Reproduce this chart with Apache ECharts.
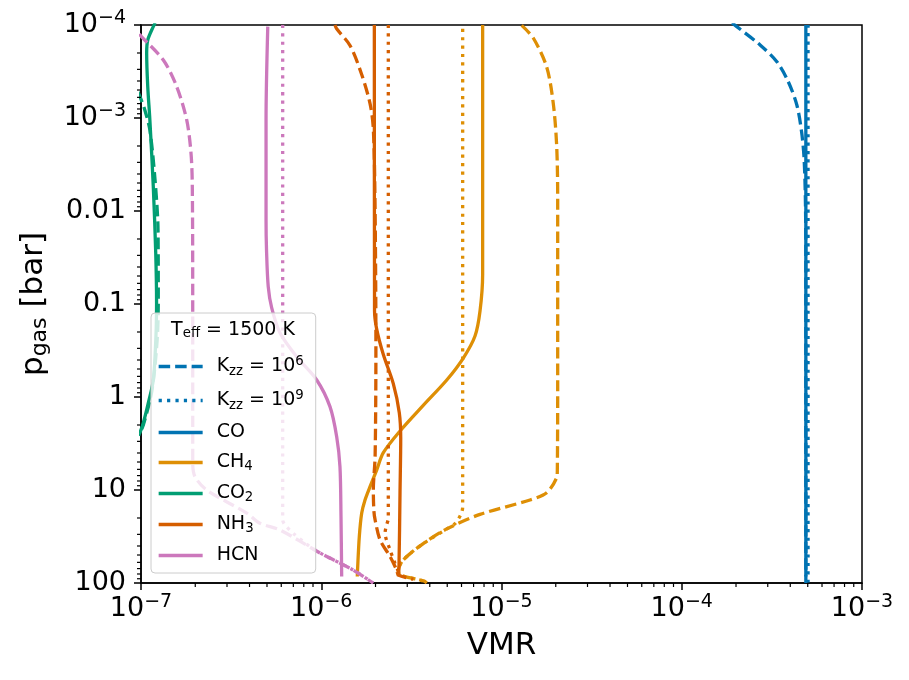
<!DOCTYPE html>
<html>
<head>
<meta charset="utf-8">
<script src="https://cdn.jsdelivr.net/npm/echarts@6/dist/echarts.min.js"></script>
<style>
  html, body { margin: 0; padding: 0; background: #fff; }
  #chart { width: 909px; height: 680px; }
</style>
</head>
<body>
<div id="chart"></div>
<script>
// each profile: [VMR, p_gas in bar], listed from the top of the atmosphere downwards
// solid = equilibrium, dashed = Kzz 1e6, dotted = Kzz 1e9
var coSolid = [[4.88e-4, 1e-4], [4.88e-4, 85]];
var coDashed = [[1.9e-4, 9.5e-5], [2.02e-4, 1.04e-4], [2.72e-4, 1.64e-4], [3.37e-4, 2.48e-4], [3.9e-4, 4.07e-4],
  [4.35e-4, 7.24e-4], [4.62e-4, 1.4e-3], [4.77e-4, 2.69e-3], [4.85e-4, 7.2e-3], [4.88e-4, 3e-2], [4.88e-4, 100]];
var coDotted = [[5.02e-4, 1e-4], [5.02e-4, 100]];

var ch4Solid = [[7.86e-6, 1e-4], [7.86e-6, 0.0482], [7.6e-6, 0.119], [7.13e-6, 0.221], [6.14e-6, 0.381], [4.97e-6, 0.656],
  [3.68e-6, 1.23], [2.735e-6, 2.32], [2.21e-6, 3.97], [2.03e-6, 6.1], [1.865e-6, 9.2], [1.749e-6, 12.8],
  [1.676e-6, 17.8], [1.626e-6, 31.8], [1.59e-6, 72], [1.585e-6, 85]];
var ch4Dashed = [[1.294e-5, 1.01e-4], [1.501e-5, 1.38e-4], [1.781e-5, 2.83e-4], [1.938e-5, 7.0e-4], [2.025e-5, 2.05e-3],
  [2.05e-5, 8.0e-3], [2.05e-5, 0.718], [2.04e-5, 6.25], [2.02e-5, 7.43], [1.781e-5, 10.7], [1.439e-5, 12.8],
  [7.6e-6, 18.3], [4.97e-6, 26.2], [3.68e-6, 37.7], [2.85e-6, 56.6], [2.68e-6, 74], [2.74e-6, 82], [3.7e-6, 95], [3.85e-6, 100]];
var ch4Dotted = [[6.09e-6, 1.1e-4], [6.09e-6, 15.3], [5.95e-6, 18.3], [5.52e-6, 23], [4.97e-6, 26.2], [3.68e-6, 37.7],
  [2.85e-6, 56.6], [2.68e-6, 74], [2.74e-6, 82], [3.7e-6, 95], [3.85e-6, 100]];

var co2Solid = [[1.2e-7, 9.5e-5], [1.17e-7, 1.04e-4], [1.09e-7, 1.45e-4], [1.075e-7, 2.01e-4], [1.09e-7, 4.6e-4],
  [1.12e-7, 1.05e-3], [1.17e-7, 5.48e-3], [1.207e-7, 2.83e-2], [1.22e-7, 9.76e-2], [1.21e-7, 0.225],
  [1.17e-7, 0.656], [1.098e-7, 1.16], [1.03e-7, 1.9], [9.8e-8, 2.5]];
var co2Dashed = [[9.6e-8, 5.2e-4], [9.87e-8, 5.9e-4], [1.05e-7, 8.2e-4], [1.12e-7, 1.35e-3], [1.196e-7, 4.6e-3],
  [1.243e-7, 1.6e-2], [1.247e-7, 0.09], [1.23e-7, 0.24], [1.15e-7, 0.85], [1.03e-7, 2.0], [9.7e-8, 2.6]];

var nh3Solid = [[1.97e-6, 1e-4], [1.975e-6, 0.119], [2.03e-6, 0.186], [2.21e-6, 0.349], [2.51e-6, 0.718], [2.71e-6, 1.475],
  [2.76e-6, 2.76], [2.735e-6, 10.7], [2.70e-6, 64.9], [2.676e-6, 85]];
var nh3Dashed = [[1.192e-6, 1e-4], [1.218e-6, 1.1e-4], [1.444e-6, 1.66e-4], [1.676e-6, 3.4e-4], [1.865e-6, 7.0e-4],
  [1.945e-6, 1.31e-3], [1.987e-6, 8.0e-3], [2.01e-6, 0.29], [1.99e-6, 4.3], [1.945e-6, 10], [1.96e-6, 17],
  [1.99e-6, 21], [2.12e-6, 34.5], [2.41e-6, 52.1], [2.62e-6, 72.4], [2.68e-6, 82], [3.24e-6, 91]];
var nh3Dotted = [[2.355e-6, 1e-4], [2.355e-6, 20], [2.29e-6, 24.8], [2.26e-6, 29], [2.41e-6, 44.2], [2.565e-6, 61.4],
  [2.676e-6, 75.5], [2.69e-6, 85]];

var hcnSolid = [[5.05e-7, 1.04e-4], [4.94e-7, 1.05e-3], [4.94e-7, 1.25e-2], [4.97e-7, 2.62e-2], [5.08e-7, 6.5e-2],
  [5.31e-7, 0.11], [5.91e-7, 0.205], [7.31e-7, 0.369], [9.44e-7, 0.656], [1.118e-6, 1.27], [1.218e-6, 2.67],
  [1.27e-6, 5.61], [1.287e-6, 19.4], [1.298e-6, 85]];
var hcnDashed = [[9.8e-8, 1.25e-4], [1.009e-7, 1.34e-4], [1.33e-7, 2.38e-4], [1.578e-7, 4.6e-4], [1.793e-7, 1.05e-3],
  [1.894e-7, 2.38e-3], [1.926e-7, 5.48e-3], [1.936e-7, 0.125], [1.936e-7, 5.13], [1.994e-7, 7.2], [2.315e-7, 10],
  [3.86e-7, 17.7], [4.57e-7, 22.8], [5.91e-7, 26.9], [9.84e-7, 47.5], [1.5e-6, 72.4], [1.94e-6, 100]];
var hcnDotted = [[6.11e-7, 1e-4], [6.11e-7, 21], [6.3e-7, 23.8], [6.99e-7, 29.2], [8.66e-7, 40.7], [9.84e-7, 47.5],
  [1.5e-6, 72.4], [1.94e-6, 100]];

// tick labels by decade (x: 1e-7 .. 1e-3, y: 1e-4 .. 100)
var xTickLabels = ['{b|10}{s|−7}', '{b|10}{s|−6}', '{b|10}{s|−5}', '{b|10}{s|−4}', '{b|10}{s|−3}'];
var yTickLabels = ['{b|10}{s|−4}', '{b|10}{s|−3}', '{b|0.01}', '{b|0.1}', '{b|1}', '{b|10}', '{b|100}'];

var legendLabels = {
  kzz6: '{k|K}{ksub|zz}{k| = 10}{ksup|6}',
  kzz9: '{k|K}{ksub|zz}{k| = 10}{ksup|9}',
  CO: '{b|CO}',
  CH4: '{b|CH}{sub|4}',
  CO2: '{b|CO}{sub|2}',
  NH3: '{b|NH}{sub|3}',
  HCN: '{b|HCN}'
};

var colors = { CO: '#0173b2', CH4: '#de8f05', CO2: '#029e73', NH3: '#d55e00', HCN: '#cc78bc' };
var FONT = 'DejaVu Sans';
var LW = 3.3;
var DASH = [11.5, 5];
var DOT = [3.2, 5.2];

function minorTicks(lo, hi) {
  var out = [];
  for (var e = lo; e < hi; e++) {
    for (var k = 2; k <= 9; k++) out.push(k * Math.pow(10, e));
  }
  return out;
}

function profile(name, data, color, dash) {
  return {
    name: name, type: 'line', data: data, symbol: 'none', showSymbol: false,
    smooth: 0.3, color: color, silent: true,
    lineStyle: { color: color, width: LW, type: dash || 'solid' }
  };
}

function tickSeries(values, axis) {
  return {
    type: 'custom', silent: true, z: 10, clip: false,
    data: values.map(function (v) { return axis === 'x' ? [v, 100] : [1e-7, v]; }),
    renderItem: function (params, api) {
      var pt = api.coord([api.value(0), api.value(1)]);
      var shape = axis === 'x'
        ? { x1: pt[0], y1: pt[1], x2: pt[0], y2: pt[1] + 4 }
        : { x1: pt[0], y1: pt[1], x2: pt[0] - 4, y2: pt[1] };
      return { type: 'line', shape: shape, style: { stroke: '#000', lineWidth: 1.2 } };
    }
  };
}

var tickRich = {
  b: { fontSize: 27, lineHeight: 32, fontFamily: FONT, color: '#000' },
  s: { fontSize: 19, lineHeight: 17, verticalAlign: 'top', fontFamily: FONT, color: '#000' }
};

var chart = echarts.init(document.getElementById('chart'));

var option = {
  animation: false,
  backgroundColor: '#fff',
  textStyle: { fontFamily: FONT },
  grid: { left: 141, right: 47, top: 25, bottom: 97, show: true, borderColor: '#000', borderWidth: 1.5, backgroundColor: 'transparent' },
  xAxis: {
    type: 'log', logBase: 10, min: 1e-7, max: 1e-3,
    axisLine: { show: true, lineStyle: { color: '#000', width: 1.5 } },
    axisTick: { show: true, length: 7, lineStyle: { color: '#000', width: 1.5 } },
    splitLine: { show: false },
    axisLabel: {
      margin: 10,
      formatter: function (v) { return xTickLabels[Math.round(Math.log10(v)) + 7]; },
      rich: tickRich
    },
    name: 'VMR', nameLocation: 'middle', nameGap: 47,
    nameTextStyle: { fontSize: 31, color: '#000', fontFamily: FONT }
  },
  yAxis: {
    type: 'log', logBase: 10, min: 1e-4, max: 100, inverse: true,
    axisLine: { show: true, lineStyle: { color: '#000', width: 1.5 } },
    axisTick: { show: true, length: 7, lineStyle: { color: '#000', width: 1.5 } },
    splitLine: { show: false },
    axisLabel: {
      margin: 15,
      formatter: function (v) { return yTickLabels[Math.round(Math.log10(v)) + 4]; },
      rich: tickRich
    },
    name: '{a|p}{sub|gas}{a| [bar]}', nameLocation: 'middle', nameGap: 90, nameRotate: 90,
    nameTextStyle: {
      color: '#000',
      rich: {
        a: { fontSize: 31, lineHeight: 35, fontFamily: FONT, color: '#000' },
        sub: { fontSize: 22, lineHeight: 18, verticalAlign: 'bottom', fontFamily: FONT, color: '#000' }
      }
    }
  },
  legend: {
    orient: 'vertical', left: 151, top: 313,
    data: ['kzz6', 'kzz9', 'CO', 'CH4', 'CO2', 'NH3', 'HCN'],
    itemWidth: 44, itemHeight: 14, itemGap: 11,
    padding: [42, 12, 8, 6],
    selectedMode: false,
    backgroundColor: 'rgba(255,255,255,0.8)', borderColor: '#cccccc', borderWidth: 1, borderRadius: 4,
    itemStyle: { opacity: 0 },
    lineStyle: { width: LW },
    formatter: function (name) { return legendLabels[name]; },
    textStyle: {
      color: '#000', fontSize: 19, fontFamily: FONT, padding: [0, 0, 0, 9],
      rich: {
        b: { fontSize: 19, lineHeight: 21, fontFamily: FONT, color: '#000' },
        sub: { fontSize: 13.3, lineHeight: 11, verticalAlign: 'bottom', fontFamily: FONT, color: '#000' },
        k: { fontSize: 19, lineHeight: 23, fontFamily: FONT, color: '#000' },
        ksub: { fontSize: 13.3, lineHeight: 12, verticalAlign: 'bottom', fontFamily: FONT, color: '#000' },
        ksup: { fontSize: 13.3, lineHeight: 12, verticalAlign: 'top', fontFamily: FONT, color: '#000' }
      }
    }
  },
  graphic: [{
    type: 'text', x: 233, y: 330, z: 100,
    style: {
      text: '{b|T}{sub|eff}{b| = 1500 K}',
      align: 'center', verticalAlign: 'middle', fill: '#000',
      rich: {
        b: { fontSize: 19, lineHeight: 21, fontFamily: FONT, fill: '#000' },
        sub: { fontSize: 13.3, lineHeight: 11, verticalAlign: 'bottom', fontFamily: FONT, fill: '#000' }
      }
    }
  }],
  series: [
    profile('kzz6', [], colors.CO, DASH),
    profile('kzz9', [], colors.CO, DOT),
    profile('CO', coSolid, colors.CO),
    profile('CO k6', coDashed, colors.CO, DASH),
    profile('CO k9', coDotted, colors.CO, DOT),
    profile('CH4', ch4Solid, colors.CH4),
    profile('CH4 k6', ch4Dashed, colors.CH4, DASH),
    profile('CH4 k9', ch4Dotted, colors.CH4, DOT),
    profile('CO2', co2Solid, colors.CO2),
    profile('CO2 k6', co2Dashed, colors.CO2, DASH),
    profile('NH3', nh3Solid, colors.NH3),
    profile('NH3 k6', nh3Dashed, colors.NH3, DASH),
    profile('NH3 k9', nh3Dotted, colors.NH3, DOT),
    profile('HCN', hcnSolid, colors.HCN),
    profile('HCN k6', hcnDashed, colors.HCN, DASH),
    profile('HCN k9', hcnDotted, colors.HCN, DOT),
    tickSeries(minorTicks(-7, -3), 'x'),
    tickSeries(minorTicks(-4, 2), 'y')
  ]
};

chart.setOption(option);
</script>
</body>
</html>
